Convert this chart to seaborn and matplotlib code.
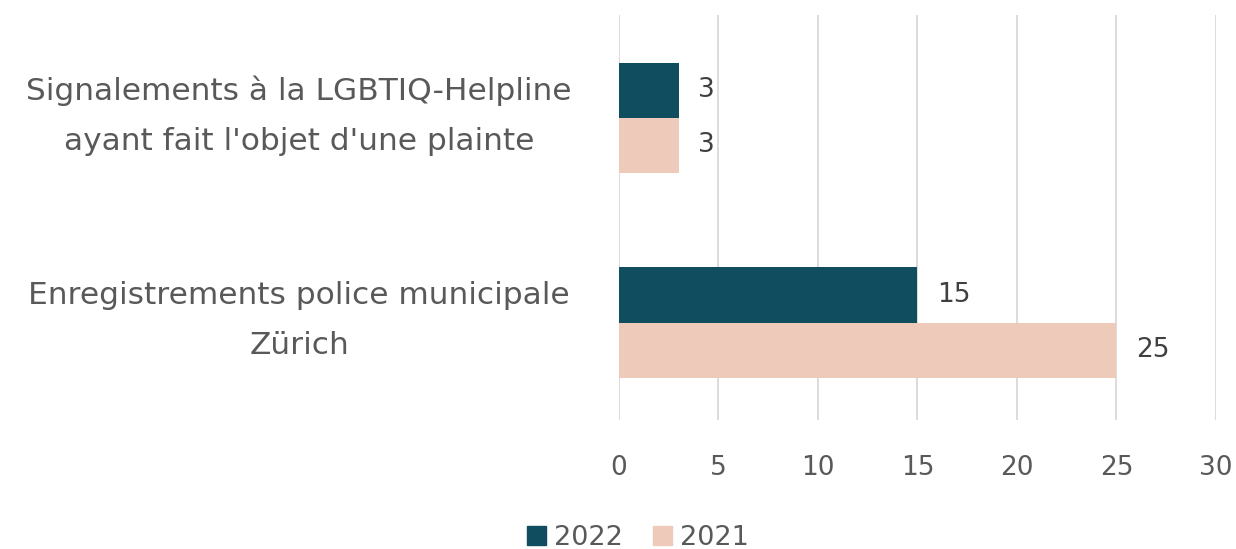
import matplotlib
matplotlib.use("Agg")
import matplotlib.pyplot as plt
import seaborn as sns
import pandas as pd

categories = ["Signalements à la LGBTIQ-Helpline\nayant fait l'objet d'une plainte",
              "Enregistrements police municipale\nZürich"]
years = ["2022", "2021"]
values_2022 = [3, 15]
values_2021 = [3, 25]
x_ticks = [0, 5, 10, 15, 20, 25, 30]

df = pd.DataFrame({
    "cat": categories * 2,
    "year": [years[0]] * 2 + [years[1]] * 2,
    "val": values_2022 + values_2021,
})

sns.set_theme(style="white")
plt.rcParams["font.family"] = ["DejaVu Sans"]
txt = "#595959"
colors = {"2022": "#0f4d5f", "2021": "#eecabb"}

fig = plt.figure(figsize=(12.36, 5.49), dpi=100)
ax = fig.add_axes([0.5008, 0.235, 0.483, 0.7377])
sns.barplot(data=df, y="cat", x="val", hue="year", hue_order=years,
            palette=colors, orient="h", width=0.54, ax=ax, legend=True,
            saturation=1, edgecolor="none")

ax.set_xlim(0, 30)
ax.set_ylim(1.475, -0.502)
ax.set_xticks(x_ticks)
ax.set_xticklabels([str(t) for t in x_ticks])
ax.xaxis.grid(True, color="#d9d9d9", linewidth=1.3)
ax.set_axisbelow(True)
for s in ax.spines.values():
    s.set_visible(False)
ax.set_xlabel("")
ax.set_ylabel("")
ax.tick_params(axis="x", length=0, pad=25, labelsize=19, labelcolor=txt)
ax.tick_params(axis="y", length=0, labelleft=False)

# category labels, centred around x ~ 299px
for i, cat in enumerate(categories):
    ax.annotate(cat, xy=(-0.536, i), xycoords=("axes fraction", "data"),
                xytext=(0, 1.5), textcoords="offset points",
                ha="center", va="center", multialignment="center",
                fontsize=22.5, color=txt, linespacing=1.9)

for cont in ax.containers:
    ax.bar_label(cont, padding=14, fontsize=19, color="#404040")

ax.legend_.remove()
handles = [plt.Rectangle((0, 0), 1, 1, color=colors[y]) for y in years]
fig.legend(handles, years, loc="center", bbox_to_anchor=(0.516, 0.02),
           ncol=2, frameon=False, fontsize=19.5, labelcolor=txt,
           handlelength=0.7, handleheight=0.7, handletextpad=0.3,
           columnspacing=1.1)

fig.savefig("out.png", dpi=100)
